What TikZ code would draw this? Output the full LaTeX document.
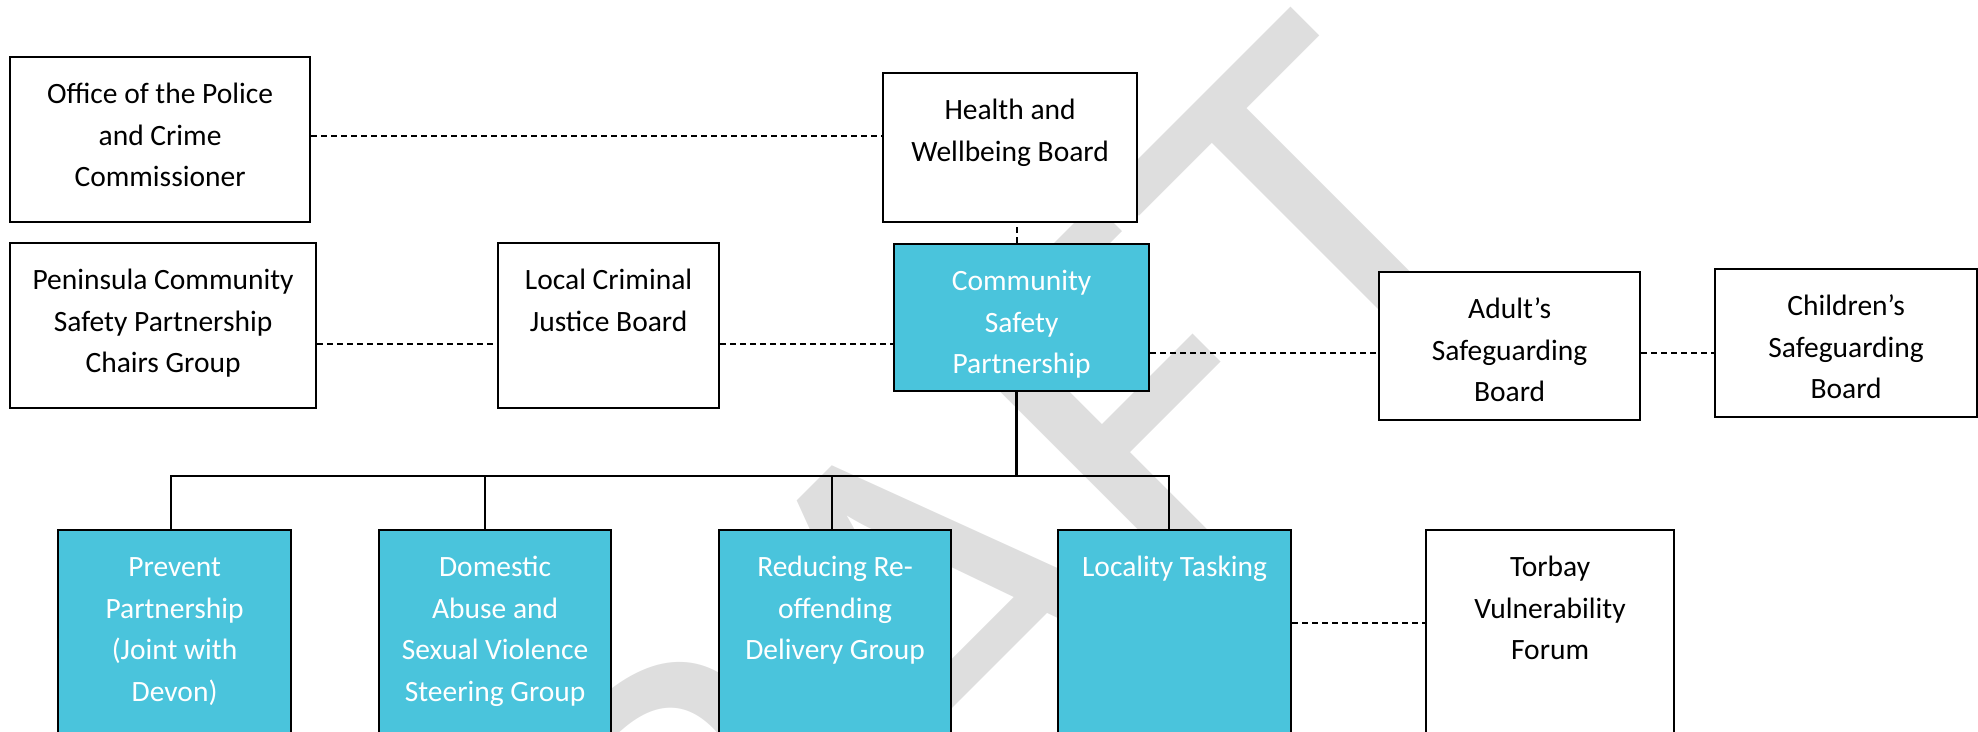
\documentclass[tikz,border=0pt]{standalone}
\usepackage{fontspec}
\setmainfont{Carlito}
\usepackage{tikz}
\usetikzlibrary{positioning, calc}

\definecolor{cspblue}{RGB}{74,196,220}
\definecolor{draftgrey}{RGB}{222,222,222}

\begin{document}
\begin{tikzpicture}[x=1pt, y=-1pt, line join=miter,
        box/.style={draw, line width=2.2pt, inner sep=0pt, anchor=north west},
        board/.style={box, fill=white},
        team/.style={box, fill=cspblue},
        txt/.style={inner sep=0pt, align=center, font=\fontsize{29.5}{41.5}\selectfont},
        wtxt/.style={txt, text=white},
        link/.style={line width=2pt, dash pattern=on 6pt off 4pt},
        tree/.style={line width=2.2pt},
        draftmark/.style={rotate=45, anchor=base east, inner sep=0pt, text=draftgrey,
                font=\fontsize{550}{550}\selectfont}]
        \useasboundingbox (0,0) rectangle (1978,731);
        \clip (0,0) rectangle (1978,731);

        % watermark
        \node[draftmark] (draft) at (1545,252) {DRAFT};

        % top row
        \node[board, minimum width=300pt, minimum height=165pt] (police) at (9,56) {};
        \node[txt, below=18.3pt of police.north] (policeT) {\strut Office of the Police\\and Crime\\Commissioner};
        \node[board, minimum width=254pt, minimum height=149pt] (health) at (882,72) {};
        \node[txt, below=18.3pt of health.north] (healthT) {\strut Health and\\Wellbeing Board};

        % middle row
        \node[board, minimum width=306pt, minimum height=165pt] (peninsula) at (9,242) {};
        \node[txt, below=18.3pt of peninsula.north] (peninsulaT) {\strut Peninsula Community\\Safety Partnership\\Chairs Group};
        \node[board, minimum width=221pt, minimum height=165pt] (lcjb) at (497,242) {};
        \node[txt, below=18.3pt of lcjb.north] (lcjbT) {\strut Local Criminal\\Justice Board};
        \node[team, minimum width=255pt, minimum height=147pt] (csp) at (893,243) {};
        \node[wtxt, below=18.3pt of csp.north] (cspT) {\strut Community\\Safety\\Partnership};
        \node[board, minimum width=261pt, minimum height=148pt] (adults) at (1378,271) {};
        \node[txt, below=18.3pt of adults.north] (adultsT) {\strut Adult’s\\Safeguarding\\Board};
        \node[board, minimum width=262pt, minimum height=148pt] (childrens) at (1714,268) {};
        \node[txt, below=18.3pt of childrens.north] (childrensT) {\strut Children’s\\Safeguarding\\Board};

        % sub groups
        \node[team, minimum width=233pt, minimum height=260pt] (prevent) at (57,529) {};
        \node[wtxt, below=18.3pt of prevent.north] (preventT) {\strut Prevent\\Partnership\\(Joint with\\Devon)};
        \node[team, minimum width=232pt, minimum height=260pt] (dasv) at (378,529) {};
        \node[wtxt, below=18.3pt of dasv.north] (dasvT) {\strut Domestic\\Abuse and\\Sexual Violence\\Steering Group};
        \node[team, minimum width=232pt, minimum height=260pt] (reoff) at (718,529) {};
        \node[wtxt, below=18.3pt of reoff.north] (reoffT) {\strut Reducing Re-\\offending\\Delivery Group};
        \node[team, minimum width=233pt, minimum height=260pt] (locality) at (1057,529) {};
        \node[wtxt, below=18.3pt of locality.north] (localityT) {\strut Locality Tasking};
        \node[board, minimum width=248pt, minimum height=260pt] (torbay) at (1425,529) {};
        \node[txt, below=18.3pt of torbay.north] (torbayT) {\strut Torbay\\Vulnerability\\Forum};

        % dashed links
        \draw[link] ([yshift=3.5pt]police.east) -- ([yshift=3.5pt]police.east -| health.west);
        \draw[link] ([xshift=-5pt]csp.north) -- ([xshift=-5pt]csp.north |- health.south);
        \draw[link] ([yshift=-18pt]peninsula.east) -- ([yshift=-18pt]peninsula.east -| lcjb.west);
        \draw[link] ([yshift=-18pt]lcjb.east) -- ([yshift=-18pt]lcjb.east -| csp.west);
        \draw[link] ([yshift=-35pt]csp.east) -- ([yshift=-35pt]csp.east -| adults.west);
        \draw[link] ([yshift=-7pt]adults.east) -- ([yshift=-7pt]adults.east -| childrens.west);
        \draw[link] ([yshift=37pt]locality.east) -- ([yshift=37pt]locality.east -| torbay.west);

        % reporting lines
        \coordinate (bus) at ($([xshift=-5pt]csp.south)+(0,84)$);
        \draw[tree, line width=3.3pt] ([xshift=-5pt]csp.south) -- (bus);
        \draw[tree] ([xshift=-4pt]prevent.north) |- (bus) -| ([xshift=-6pt]locality.north);
        \draw[tree] ([xshift=-10pt]dasv.north) -- ([xshift=-10pt]dasv.north |- bus);
        \draw[tree] ([xshift=-3pt]reoff.north) -- ([xshift=-3pt]reoff.north |- bus);
\end{tikzpicture}
\end{document}
